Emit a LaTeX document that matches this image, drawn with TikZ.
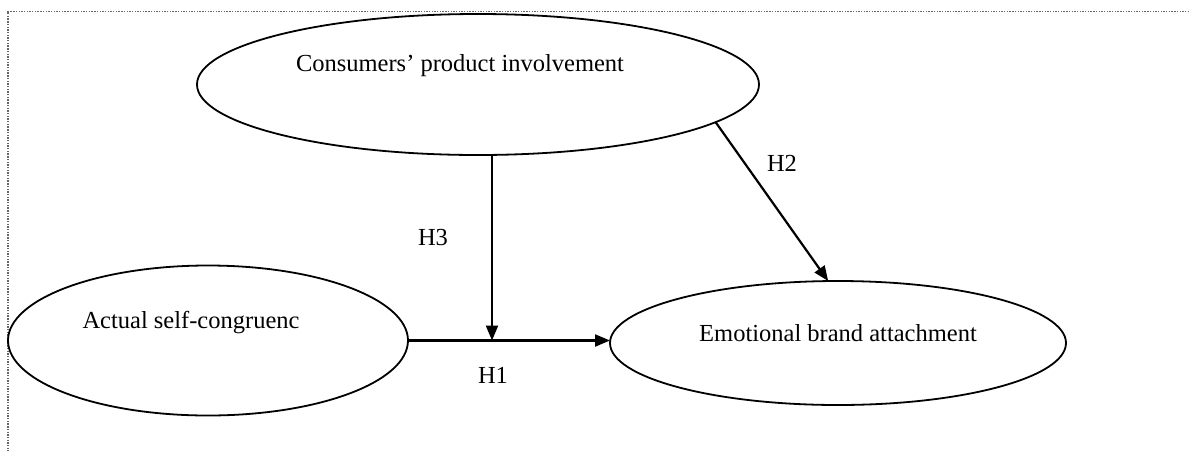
\documentclass[tikz,border=0pt]{standalone}
\usepackage{fontspec}
\setmainfont{Liberation Serif}
\usetikzlibrary{shapes.geometric,arrows.meta,calc}

\begin{document}
\begin{tikzpicture}[x=1pt,y=-1pt,
  construct/.style={ellipse,draw=black,line width=1.8pt,inner sep=0pt,outer sep=0pt},
  caption/.style={font=\fontsize{24.5}{29}\selectfont,text=black,inner sep=0pt},
  path/.style={draw=black,line width=2.2pt,-{Triangle[length=15pt,width=12pt]}},
  frame/.style={draw=black!60,line width=1.4pt,dash pattern=on 1.4pt off 1.3pt}
]
\useasboundingbox (0,0) rectangle (1189,451);

% dotted page frame
\draw[frame] (1189,11.5) -- (8,11.5) -- (8,451);

% constructs
\node[construct,minimum width=562pt,minimum height=141pt] (T) at (478,84.5) {};
\node[construct,minimum width=400pt,minimum height=150pt] (L) at (208,340.5) {};
\node[construct,minimum width=456pt,minimum height=124pt] (R) at (838,343) {};

\node[caption] (tT) at (460,66) {Consumers’ product involvement};
\node[caption] (tL) at (191,323) {Actual self-congruenc};
\node[caption] (tR) at (838,333) {Emotional brand attachment};

% hypothesised paths
\coordinate (J) at ($(T.south)+(14,0)$);
\draw[path] (L.east) -- (R.west |- L.east);
\draw[path] (J) -- (J |- L.east);
\draw[path] (T.-9.5) -- (R.99.7);

\node[caption] (h1) at (493,375) {H1};
\node[caption] (h2) at (782,163) {H2};
\node[caption] (h3) at (433,238) {H3};
\end{tikzpicture}
\end{document}
